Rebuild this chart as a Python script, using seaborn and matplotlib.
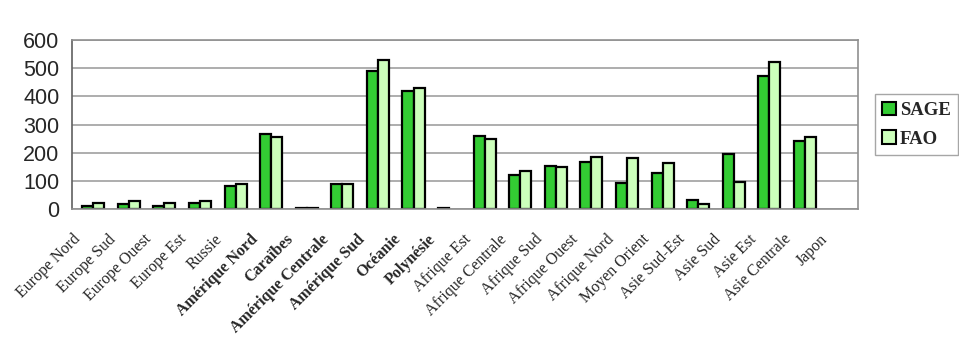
import matplotlib
matplotlib.use("Agg")
import matplotlib.pyplot as plt
import seaborn as sns
import pandas as pd
import numpy as np
from matplotlib.patches import Patch

categories = ["Europe Nord", "Europe Sud", "Europe Ouest", "Europe Est", "Russie",
              "Amérique Nord", "Caraïbes", "Amérique Centrale", "Amérique Sud",
              "Océanie", "Polynésie", "Afrique Est", "Afrique Centrale", "Afrique Sud",
              "Afrique Ouest", "Afrique Nord", "Moyen Orient", "Asie Sud-Est",
              "Asie Sud", "Asie Est", "Asie Centrale", "Japon"]
sage = [12, 18, 12, 22, 82, 266, 5, 88, 491, 420, 4, 260, 121, 153, 168, 93,
        127, 33, 196, 473, 240, np.nan]
fao = [22, 27, 22, 28, 88, 257, 5, 88, 530, 431, np.nan, 250, 136, 148, 186, 180,
       163, 18, 95, 523, 257, np.nan]
series = ["SAGE", "FAO"]
bold_labels = ["Amérique Nord", "Caraïbes", "Amérique Centrale", "Amérique Sud",
               "Océanie", "Polynésie"]
yticks = [0, 100, 200, 300, 400, 500, 600]

df = pd.DataFrame({
    "region": categories * 2,
    "value": sage + fao,
    "source": [series[0]] * len(categories) + [series[1]] * len(categories),
})

colors = {"SAGE": "#33cc33", "FAO": "#ccffbb"}

sns.set_style("white")
fig = plt.figure(figsize=(9.59, 3.37), dpi=100)
ax = fig.add_axes([0.075, 0.380, 0.820, 0.501])

sns.barplot(data=df, x="region", y="value", hue="source", order=categories,
            hue_order=series, palette=colors, width=0.62, gap=0, saturation=1,
            edgecolor="black", linewidth=1.6, ax=ax, legend=False)

ax.set_ylim(0, 600)
ax.set_xlim(-0.5, len(categories) - 0.5)
ax.set_yticks(yticks)
ax.set_yticklabels([str(t) for t in yticks], fontsize=15.5, family="Liberation Sans")
ax.yaxis.grid(True, color="#a0a0a0", linewidth=1.2)
ax.set_axisbelow(True)
ax.set_xlabel("")
ax.set_ylabel("")

# labels placed slightly left of each category centre, as in the reference
ax.set_xticks([i - 0.6 for i in range(len(categories))])
ax.set_xticklabels(categories, rotation=45, ha="right", rotation_mode="anchor",
                   fontsize=11.5, family="Liberation Serif")
for lbl in ax.get_xticklabels():
    if lbl.get_text() in bold_labels:
        lbl.set_fontweight("bold")
ax.tick_params(axis="x", which="major", length=0, pad=16)
ax.set_xticks([i + 0.5 for i in range(-1, len(categories))], minor=True)
ax.tick_params(axis="x", which="minor", length=5, color="#808080", direction="out")
ax.tick_params(axis="y", length=5, color="#606060", direction="out", pad=4)

for side in ["top", "right", "bottom"]:
    ax.spines[side].set_color("#909090")
    ax.spines[side].set_linewidth(1.2)
ax.spines["left"].set_color("#606060")
ax.spines["left"].set_linewidth(1.2)

handles = [Patch(facecolor=colors[s], edgecolor="black", linewidth=1.5, label=s)
           for s in series]
leg = fig.legend(handles=handles, loc="center left", bbox_to_anchor=(0.912, 0.63),
                 frameon=True, fancybox=False, edgecolor="#909090",
                 prop={"family": "Liberation Serif", "weight": "bold", "size": 13.5},
                 handlelength=0.75, handleheight=0.75, handletextpad=0.2,
                 borderpad=0.4, borderaxespad=0, labelspacing=0.6)
leg.get_frame().set_linewidth(1.0)

fig.savefig("out.png", dpi=100)
